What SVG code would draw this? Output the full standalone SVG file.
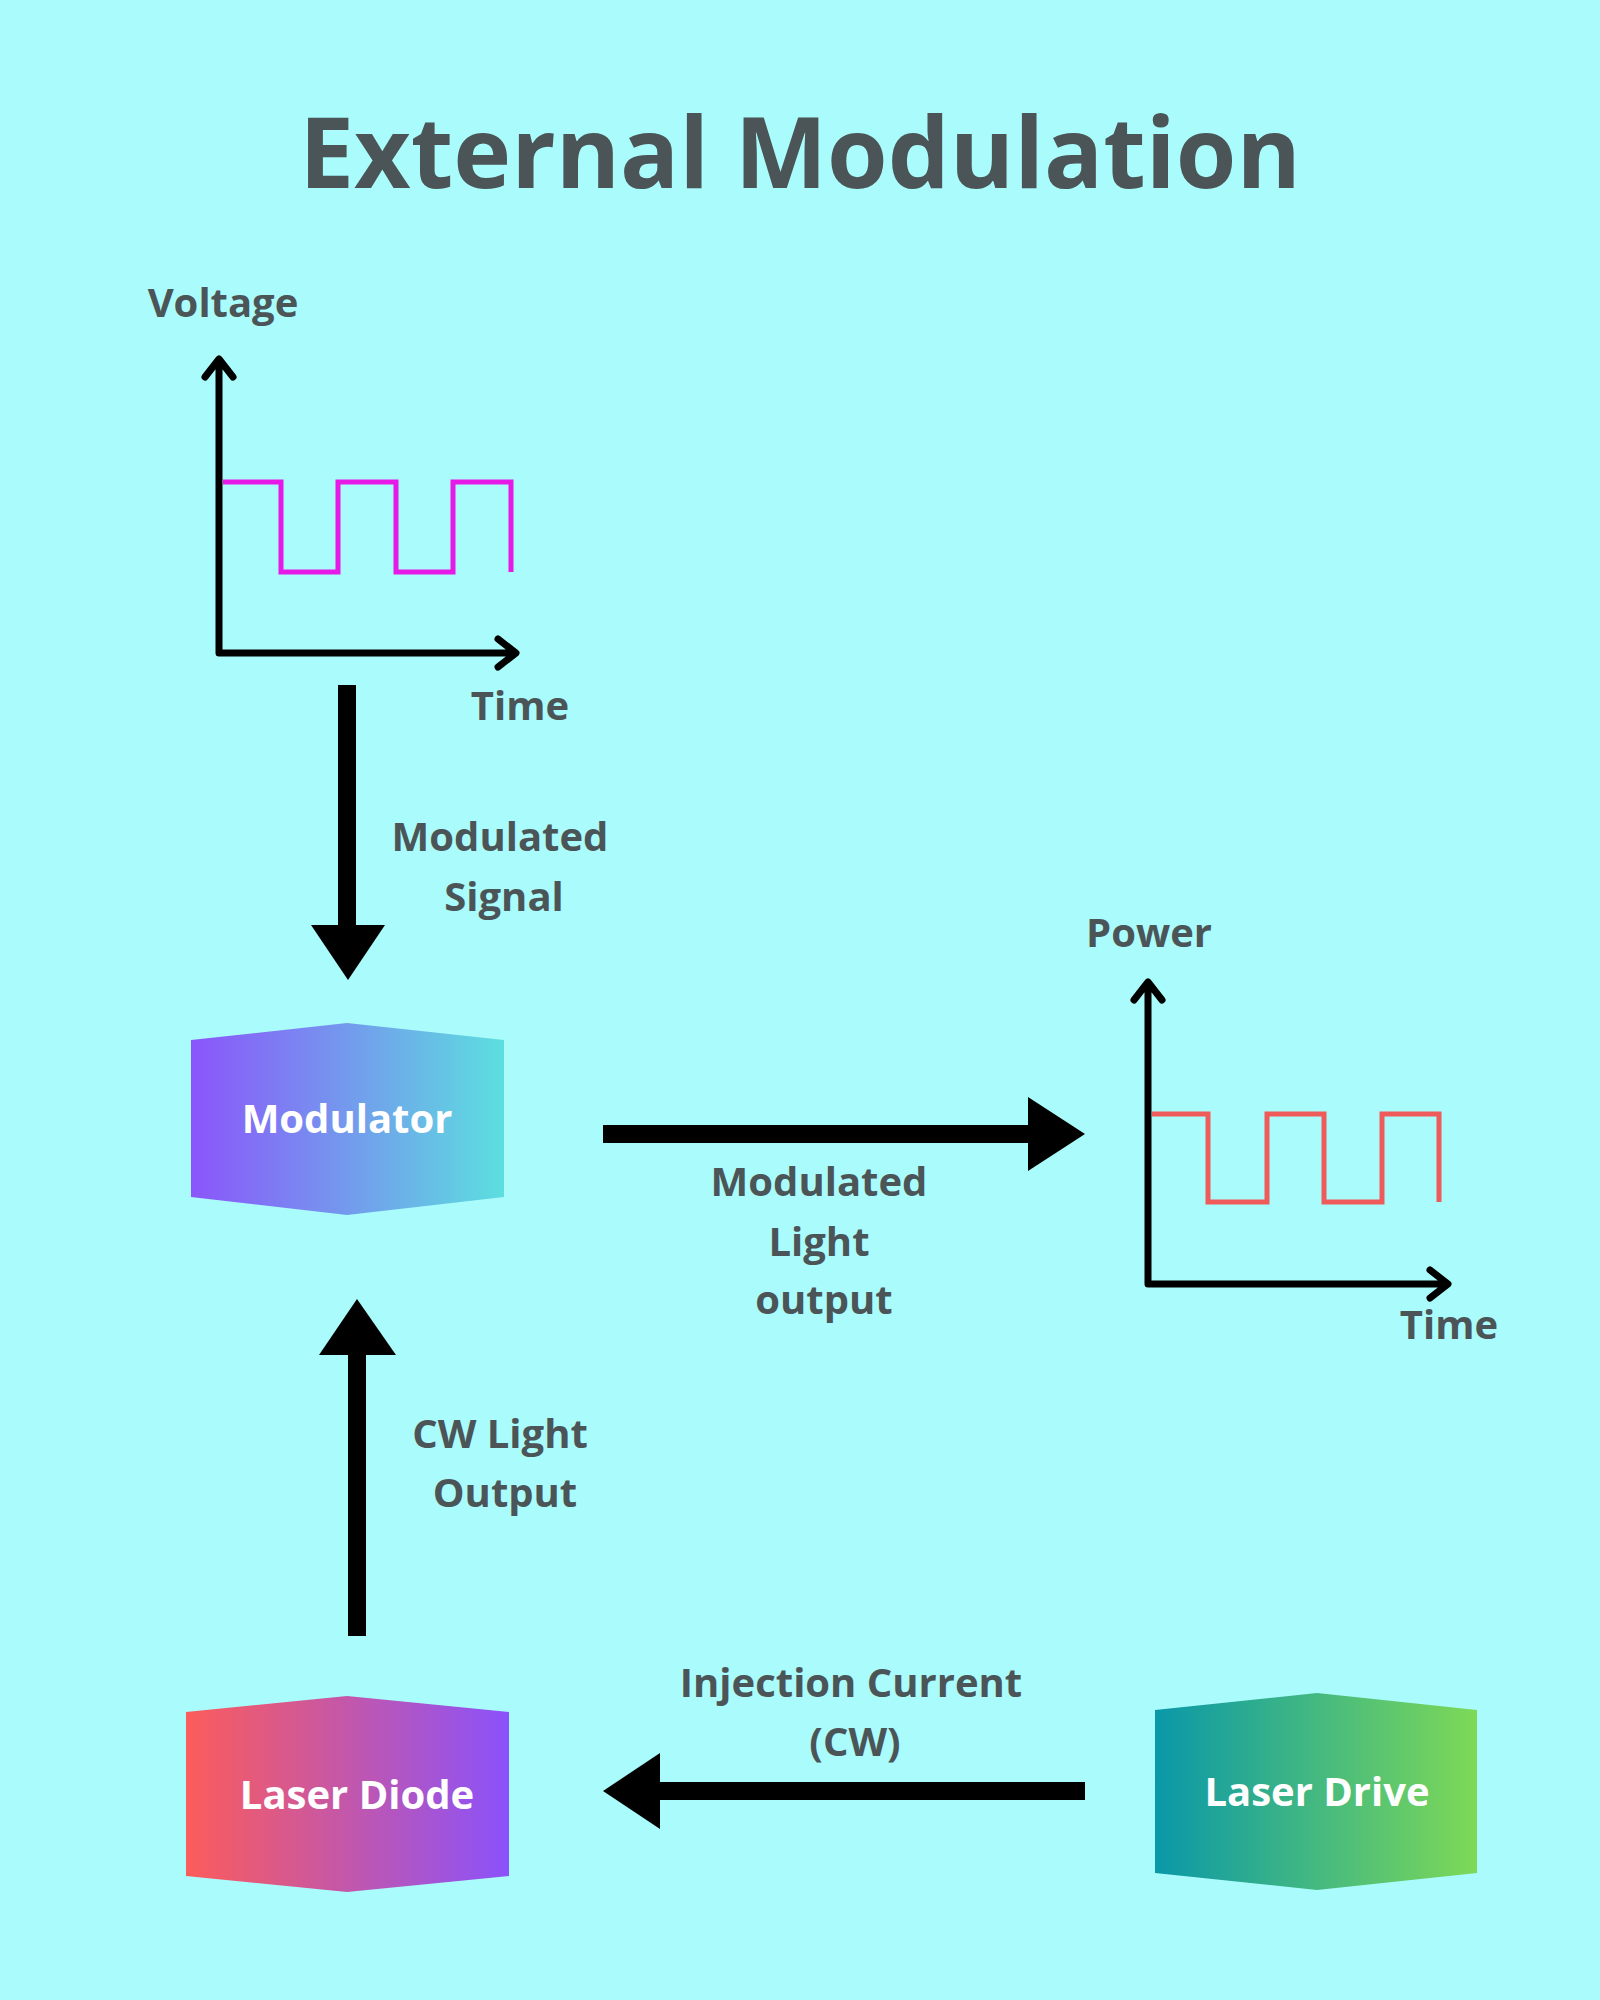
<svg xmlns="http://www.w3.org/2000/svg" width="1600" height="2000" viewBox="0 0 1600 2000">
<defs>
<linearGradient id="gMod" x1="0" y1="0" x2="1" y2="0"><stop offset="0" stop-color="#8b55fb"/><stop offset="1" stop-color="#5cdfdf"/></linearGradient>
<linearGradient id="gDiode" x1="0" y1="0" x2="1" y2="0"><stop offset="0" stop-color="#fc5c5a"/><stop offset="1" stop-color="#8a52fb"/></linearGradient>
<linearGradient id="gDrive" x1="0" y1="0" x2="1" y2="0"><stop offset="0" stop-color="#0a98a9"/><stop offset="1" stop-color="#7ed957"/></linearGradient>
<style>
.t{font-family:"Open Sans","DejaVu Sans",sans-serif;font-weight:bold;fill:#4b5557;text-anchor:middle}
.lbl{font-size:40px}
.w{font-family:"Open Sans","DejaVu Sans",sans-serif;font-weight:bold;fill:#fff;text-anchor:middle;font-size:40px}
.ax{fill:none;stroke:#000;stroke-width:7;stroke-linecap:round;stroke-linejoin:round}
.big{stroke:#000;stroke-width:18}
</style>
</defs>
<rect width="1600" height="2000" fill="#aafbfb"/>
<text class="t" x="800" y="188" font-size="98">External Modulation</text>

<g id="chart-voltage">
<text class="t lbl" x="223" y="317">Voltage</text>
<path class="ax" d="M219 363V653H514M205 377L219 359L233 377M498 639L516 653L498 667"/>
<path fill="none" stroke="#e619e6" stroke-width="5" d="M223 482H281V572H338V482H396V572H453V482H511V572"/>
<text class="t lbl" x="520" y="720">Time</text>
</g>

<g id="chart-power">
<text class="t lbl" x="1149" y="947">Power</text>
<path class="ax" d="M1148 986V1284H1446M1134 1000L1148 982L1162 1000M1430 1270L1448 1284L1430 1298"/>
<path fill="none" stroke="#ef5b5b" stroke-width="5" d="M1152 1114H1208V1202H1267V1114H1324V1202H1382V1114H1439V1202"/>
<text class="t lbl" x="1449" y="1339">Time</text>
</g>

<g id="modulator">
<polygon points="191,1040 347,1023 504,1040 504,1197 347,1215 191,1197" fill="url(#gMod)"/>
<text class="w" x="347" y="1133">Modulator</text>
</g>
<g id="laser-diode">
<polygon points="186,1712 347,1696 509,1712 509,1876 347,1892 186,1876" fill="url(#gDiode)"/>
<text class="w" x="357" y="1809">Laser Diode</text>
</g>
<g id="laser-drive">
<polygon points="1155,1710 1317,1693 1477,1710 1477,1873 1317,1890 1155,1873" fill="url(#gDrive)"/>
<text class="w" x="1317" y="1806">Laser Drive</text>
</g>

<g id="connectors">
<line class="big" x1="347" y1="685" x2="347" y2="930"/>
<polygon points="311,925 385,925 348,980"/>
<line class="big" x1="603" y1="1134" x2="1035" y2="1134"/>
<polygon points="1028,1097 1085,1134 1028,1171"/>
<line class="big" x1="357" y1="1636" x2="357" y2="1350"/>
<polygon points="319,1355 396,1355 357,1299"/>
<line class="big" x1="1085" y1="1791" x2="655" y2="1791"/>
<polygon points="660,1753 603,1791 660,1829"/>
<text class="t lbl" x="500" y="851">Modulated</text>
<text class="t lbl" x="504" y="911">Signal</text>
<text class="t lbl" x="819" y="1196">Modulated</text>
<text class="t lbl" x="819" y="1256">Light</text>
<text class="t lbl" x="824" y="1314">output</text>
<text class="t lbl" x="500" y="1448">CW Light</text>
<text class="t lbl" x="505" y="1507">Output</text>
<text class="t lbl" x="851" y="1697">Injection Current</text>
<text class="t lbl" x="855" y="1756">(CW)</text>
</g>
</svg>
